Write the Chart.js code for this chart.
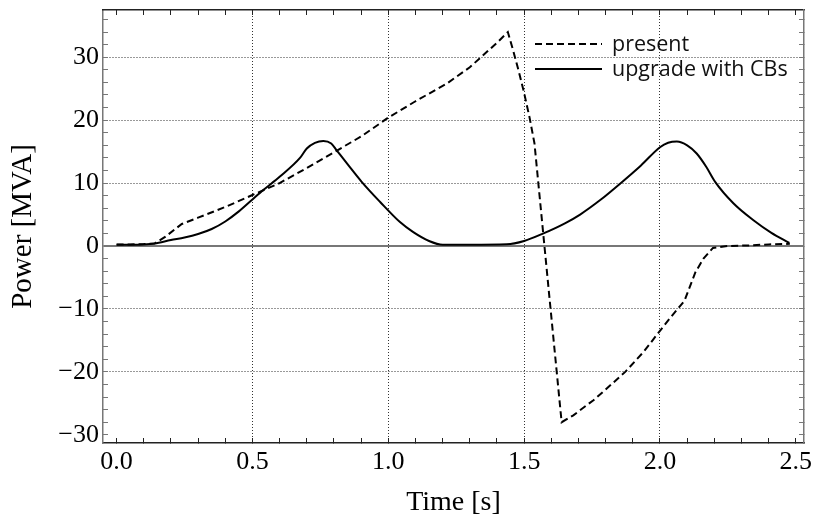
<!DOCTYPE html>
<html>
<head>
<meta charset="utf-8">
<script src="https://cdn.jsdelivr.net/npm/chart.js@4/dist/chart.umd.min.js"></script>
<style>
  html, body { margin: 0; padding: 0; background: #fff; }
</style>
</head>
<body>
<canvas id="powerChart" width="815" height="519"></canvas>
<script>
(function() {
    'use strict';

    var seriesLabels = ['present', 'upgrade with CBs'];

    var presentTime = [0, 0.05, 0.10, 0.14, 0.18, 0.24, 0.30, 0.40, 0.50, 0.60, 0.70, 0.80, 0.90, 1.00,
        1.10, 1.215, 1.30, 1.40, 1.44, 1.46, 1.48, 1.50, 1.52, 1.538, 1.59, 1.638,
        1.681, 1.755, 1.80, 1.872, 1.94, 1.994, 2.04, 2.09, 2.13, 2.16, 2.195, 2.25, 2.33, 2.40, 2.478];
    var presentPower = [0.25, 0.25, 0.3, 0.4, 1.5, 3.5, 4.5, 6.2, 8.1, 10.0, 12.4, 14.9, 17.4, 20.4,
        23.0, 25.8, 28.4, 32.3, 34.0, 31.0, 27.8, 24.3, 20.4, 16.3, -6.8, -28.0,
        -26.9, -24.5, -22.8, -20.0, -16.8, -13.8, -11.3, -8.7, -4.2, -2.0, -0.3, 0.0, 0.1, 0.25, 0.35];

    var upgradeTime = [0, 0.05, 0.10, 0.14, 0.20, 0.25, 0.30, 0.35, 0.40, 0.45, 0.50, 0.54, 0.60, 0.675,
        0.70, 0.73, 0.761, 0.79, 0.81, 0.85, 0.902, 0.97, 1.043, 1.092, 1.15, 1.20, 1.30, 1.436,
        1.50, 1.571, 1.65, 1.706, 1.78, 1.853, 1.93, 2.00, 2.03, 2.062, 2.10, 2.135, 2.17, 2.203,
        2.27, 2.344, 2.41, 2.476];
    var upgradePower = [0.2, 0.2, 0.25, 0.4, 0.95, 1.35, 1.9, 2.7, 3.9, 5.5, 7.4, 8.9, 11.0, 14.0,
        15.5, 16.4, 16.7, 16.3, 15.2, 13.0, 10.2, 7.0, 3.8, 2.2, 0.8, 0.2, 0.2, 0.27,
        0.8, 2.0, 3.6, 5.0, 7.3, 9.9, 12.8, 15.7, 16.4, 16.6, 16.0, 14.7, 12.6, 10.2,
        6.8, 4.1, 2.1, 0.5];

    var xMajorTicks = [0, 0.5, 1.0, 1.5, 2.0, 2.5];
    var yMajorTicks = [-30, -20, -10, 0, 10, 20, 30];
    var xGridValues = [0.5, 1.0, 1.5, 2.0];
    var yGridValues = [-20, -10, 0, 10, 20, 30];
    var xMinorStep = 0.1;
    var yMinorStep = 2;

    var xRange = [-0.05, 2.53];
    var yRange = [-31.3, 37.5];

    function toPoints(xs, ys) {
        return xs.map(function(x, i) { return { x: x, y: ys[i] }; });
    }

    function stepValues(from, to, step) {
        var out = [];
        var n = Math.round((to - from) / step);
        for (var i = 0; i <= n; i++) out.push(Math.round((from + i * step) * 1000) / 1000);
        return out;
    }

    function inList(list, v) {
        return list.some(function(m) { return Math.abs(m - v) < 1e-6; });
    }

    var xTickValues = stepValues(0, 2.5, xMinorStep);
    var yTickValues = stepValues(-30, 36, yMinorStep);

    function setTicks(values) {
        return function(scale) {
            scale.ticks = values.map(function(v) { return { value: v }; });
        };
    }

    // fixed box sizes so the plot area lands where the original frame is
    function fitBox(w, h) {
        return function(s) {
            if (w !== null) s.width = w;
            if (h !== null) s.height = h;
            s.paddingTop = 0;
            s.paddingBottom = 0;
            s.paddingLeft = 0;
            s.paddingRight = 0;
        };
    }

    var serif = 'Liberation Serif, Times New Roman, serif';
    var dots = '#333';

    var legendBox = {
        id: 'legendBox',
        afterDraw: function(chart) {
            var ctx = chart.ctx;
            var rows = [{ line: 44, base: 51 }, { line: 69, base: 75.5 }];
            ctx.save();
            chart.data.datasets.forEach(function(ds, i) {
                var r = rows[i];
                ctx.beginPath();
                ctx.setLineDash(ds.borderDash || []);
                ctx.lineWidth = ds.borderWidth;
                ctx.strokeStyle = ds.borderColor;
                ctx.moveTo(535, r.line);
                ctx.lineTo(602, r.line);
                ctx.stroke();
                ctx.setLineDash([]);
                ctx.fillStyle = '#111';
                ctx.font = '21.5px "Open Sans"';
                ctx.textAlign = 'left';
                ctx.textBaseline = 'alphabetic';
                ctx.fillText(ds.label, 612, r.base);
            });
            ctx.restore();
        }
    };

    function initChart() {
        if (typeof Chart === 'undefined') return;
        var canvas = document.getElementById('powerChart');
        new Chart(canvas, {
            type: 'scatter',
            data: {
                datasets: [{
                    label: seriesLabels[0],
                    data: toPoints(presentTime, presentPower),
                    showLine: true,
                    borderColor: '#000',
                    borderWidth: 2,
                    borderDash: [7, 4],
                    pointRadius: 0,
                    tension: 0,
                    fill: false
                }, {
                    label: seriesLabels[1],
                    data: toPoints(upgradeTime, upgradePower),
                    showLine: true,
                    borderColor: '#000',
                    borderWidth: 2,
                    pointRadius: 0,
                    cubicInterpolationMode: 'monotone',
                    fill: false
                }]
            },
            options: {
                responsive: false,
                animation: false,
                devicePixelRatio: 1,
                layout: { padding: { left: 0, right: 11, top: 10, bottom: 0 } },
                plugins: {
                    legend: { display: false },
                    tooltip: { enabled: false }
                },
                scales: {
                    x: {
                        type: 'linear',
                        position: 'bottom',
                        min: xRange[0],
                        max: xRange[1],
                        afterBuildTicks: setTicks(xTickValues),
                        afterFit: fitBox(null, 76),
                        ticks: {
                            autoSkip: false,
                            maxRotation: 0,
                            padding: 9,
                            color: '#000',
                            font: { family: serif, size: 26, lineHeight: 1.2 },
                            callback: function(v) { return inList(xMajorTicks, v) ? Number(v).toFixed(1) : ''; }
                        },
                        grid: {
                            color: function(c) { return c.tick && inList(xGridValues, c.tick.value) ? dots : 'rgba(0,0,0,0)'; },
                            lineWidth: 1,
                            tickColor: '#222',
                            tickLength: -5,
                            tickWidth: 1
                        },
                        border: { color: '#222', width: 1.5, dash: [1, 2] },
                        title: {
                            display: true,
                            text: 'Time [s]',
                            color: '#000',
                            font: { family: serif, size: 28, lineHeight: 1 },
                            padding: { top: 0, bottom: 2 }
                        }
                    },
                    y: {
                        type: 'linear',
                        position: 'left',
                        min: yRange[0],
                        max: yRange[1],
                        afterBuildTicks: setTicks(yTickValues),
                        afterFit: fitBox(103, null),
                        ticks: {
                            autoSkip: false,
                            padding: 9,
                            color: '#000',
                            font: { family: serif, size: 26, lineHeight: 1.2 },
                            callback: function(v) {
                                if (!inList(yMajorTicks, v)) return '';
                                return v < 0 ? '\u2212' + Math.abs(v) : String(v);
                            }
                        },
                        grid: {
                            color: function(c) {
                                if (!c.tick || !inList(yGridValues, c.tick.value)) return 'rgba(0,0,0,0)';
                                return c.tick.value === 0 ? '#777' : dots;
                            },
                            lineWidth: function(c) { return c.tick && c.tick.value === 0 ? 2 : 1; },
                            tickColor: '#777',
                            tickLength: -5,
                            tickWidth: 1
                        },
                        border: {
                            color: '#777',
                            width: 1.5,
                            dash: function(c) { return c.tick && c.tick.value === 0 ? [] : [1, 2]; }
                        },
                        title: {
                            display: true,
                            text: 'Power [MVA]',
                            color: '#000',
                            font: { family: serif, size: 29, lineHeight: 1 },
                            padding: { top: 9, bottom: 0 }
                        }
                    },
                    x2: {
                        type: 'linear',
                        position: 'top',
                        min: xRange[0],
                        max: xRange[1],
                        afterBuildTicks: setTicks(xTickValues),
                        afterFit: fitBox(null, 0),
                        ticks: { display: false },
                        grid: { drawOnChartArea: false, tickLength: -5, tickColor: '#222', tickWidth: 1 },
                        border: { color: '#222', width: 1.5 }
                    },
                    y2: {
                        type: 'linear',
                        position: 'right',
                        min: yRange[0],
                        max: yRange[1],
                        afterBuildTicks: setTicks(yTickValues),
                        afterFit: fitBox(0, null),
                        ticks: { display: false },
                        grid: { drawOnChartArea: false, tickLength: -5, tickColor: '#777', tickWidth: 1 },
                        border: { color: '#777', width: 1.5 }
                    }
                }
            },
            plugins: [legendBox]
        });
    }

    if (document.readyState === 'loading') {
        document.addEventListener('DOMContentLoaded', initChart);
    } else {
        initChart();
    }
})();
</script>
</body>
</html>
